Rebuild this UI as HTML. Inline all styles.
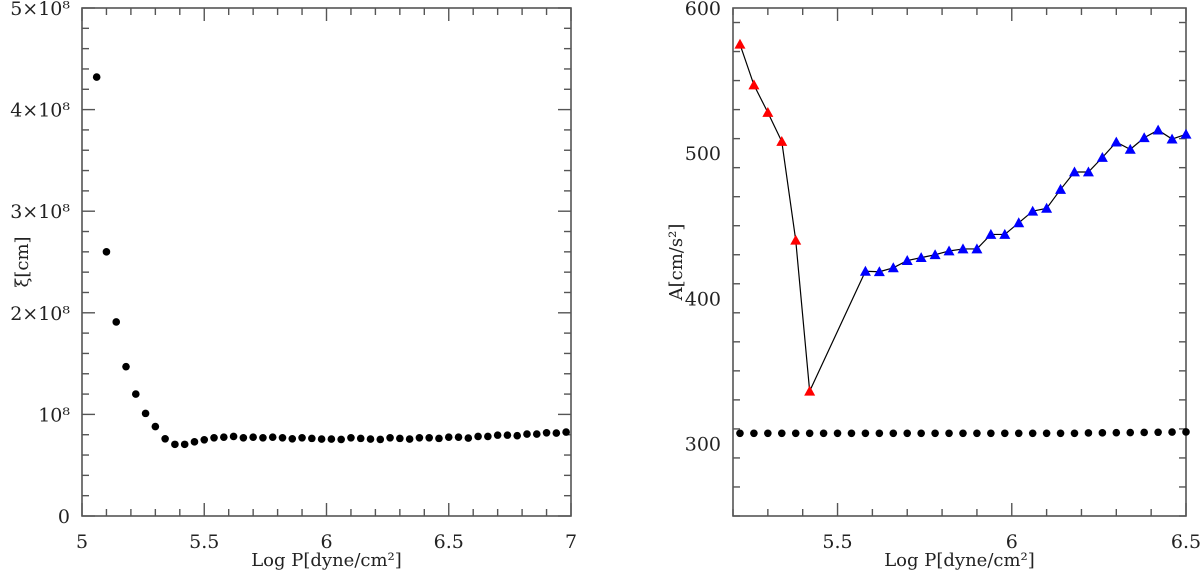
<!DOCTYPE html>
<html><head><meta charset="utf-8"><style>
html,body{margin:0;padding:0;background:#fff;}
svg{display:block;font-family:"DejaVu Serif","Liberation Serif",serif;}
</style></head><body>
<svg id="chart" width="1200" height="571" viewBox="0 0 1200 571" xmlns="http://www.w3.org/2000/svg"></svg>
<script>
// Left panel data
const leftX0 = 5.06, leftStep = 0.04;
const leftXiValues = [4.32,2.60,1.91,1.47,1.20,1.01,0.88,0.76,0.705,0.705,0.73,0.75,0.77,0.776,0.783,0.77,0.776,0.77,0.776,0.77,0.76,0.77,0.764,0.757,0.757,0.754,0.77,0.764,0.757,0.754,0.77,0.764,0.757,0.77,0.77,0.764,0.776,0.776,0.767,0.783,0.783,0.796,0.796,0.79,0.806,0.806,0.819,0.816,0.826];
const leftXTicks = [5,5.5,6,6.5,7];
const leftXTickLabels = ["5","5.5","6","6.5","7"];
const leftYTicks = [0,1,2,3,4,5];
const leftYTickLabels = ["0","10⁸","2×10⁸","3×10⁸","4×10⁸","5×10⁸"];
// Right panel data
const redX = [5.22,5.26,5.30,5.34,5.38,5.42];
const redA = [575,547,528,508,440,336];
const blueX = [5.58,5.62,5.66,5.70,5.74,5.78,5.82,5.86,5.90,5.94,5.98,6.02,6.06,6.10,6.14,6.18,6.22,6.26,6.30,6.34,6.38,6.42,6.46,6.50];
const blueA = [418.6,418.3,421,426,428,430,432.6,434,434,444,444,452,460,462,475,487,487,497,507.6,502.6,510.6,515.9,509.7,513];
const blackX0 = 5.22;
const blackA = [307,307,307,307,307,307,307,307,307,307,307,307,307,307,307,307,307,307,307,307,307,307,307,307,307,307.2,307.3,307.4,307.5,307.6,307.7,307.8,307.9];
const rightXTicks = [5.5,6,6.5];
const rightXTickLabels = ["5.5","6","6.5"];
const rightYTicks = [300,400,500,600];
const rightYTickLabels = ["300","400","500","600"];

const NS = "http://www.w3.org/2000/svg";
const svg = document.getElementById('chart');
function mk(tag, attrs, parent){
  const e = document.createElementNS(NS, tag);
  for (const k in attrs) e.setAttribute(k, attrs[k]);
  (parent||svg).appendChild(e);
  return e;
}
function panel(cfg){
  const g = mk('g', {});
  
  
  const sx = v => cfg.x0 + (v - cfg.xmin) / (cfg.xmax - cfg.xmin) * (cfg.x1 - cfg.x0);
  const sy = v => cfg.y1 - (v - cfg.ymin) / (cfg.ymax - cfg.ymin) * (cfg.y1 - cfg.y0);
  const frame = mk('rect', {x:cfg.x0, y:cfg.y0, width:cfg.x1-cfg.x0, height:cfg.y1-cfg.y0, fill:'none', stroke:'#555', 'stroke-width':1.6}, g);
  
  
  const nx = Math.round((cfg.xmax - cfg.xmin)/cfg.xminor);
  for (let i=0;i<=nx;i++){
    const v = cfg.xmin + i*cfg.xminor;
    const major = cfg.xTicks.some(t=>Math.abs(t-v)<1e-6);
    const L = major?13:7, x = sx(v);
    mk('line',{x1:x,y1:cfg.y1,x2:x,y2:cfg.y1-L,stroke:'#555','stroke-width':1.4},g);
    mk('line',{x1:x,y1:cfg.y0,x2:x,y2:cfg.y0+L,stroke:'#555','stroke-width':1.4},g);
  }
  cfg.xTicks.forEach((t,i)=>{
    const tx = mk('text',{x:sx(t),y:cfg.y1+32,'text-anchor':'middle','font-size':19,fill:'#222'},g);
    tx.textContent = cfg.xLabels[i];
    
    
  });
  const ny = Math.round((cfg.ymax - cfg.ymin)/cfg.yminor);
  for (let i=0;i<=ny;i++){
    const v = cfg.ymin + i*cfg.yminor;
    const major = cfg.yTicks.some(t=>Math.abs(t-v)<1e-6);
    const L = major?13:7, y = sy(v);
    mk('line',{x1:cfg.x0,y1:y,x2:cfg.x0+L,y2:y,stroke:'#555','stroke-width':1.4},g);
    mk('line',{x1:cfg.x1,y1:y,x2:cfg.x1-L,y2:y,stroke:'#555','stroke-width':1.4},g);
  }
  cfg.yTicks.forEach((t,i)=>{
    const ty = mk('text',{x:cfg.x0-12,y:sy(t)+7,'text-anchor':'end','font-size':19,fill:'#222'},g);
    ty.textContent = cfg.yLabels[i];
    
    
  });
  const xt = mk('text',{x:(cfg.x0+cfg.x1)/2,y:566,'text-anchor':'middle','font-size':18,fill:'#222'},g);
  xt.textContent = 'Log P[dyne/cm²]';
  
  
  const yt = mk('text',{x:0,y:0,'text-anchor':'middle','font-size':18,fill:'#222',transform:`translate(${cfg.ytx},${(cfg.y0+cfg.y1)/2}) rotate(-90)`},g);
  yt.textContent = cfg.ytitle;
  
  
  return {g, sx, sy};
}

const L = panel({name:'left-panel', x0:82, x1:571, y0:8, y1:516, xmin:5, xmax:7, ymin:0, ymax:5,
  xminor:0.1, yminor:0.2, xTicks:leftXTicks, xLabels:leftXTickLabels, yTicks:leftYTicks, yLabels:leftYTickLabels,
  ytitle:'ξ[cm]', ytx:28});
leftXiValues.forEach((v,i)=>{
  const c = mk('circle',{cx:L.sx(leftX0+i*leftStep), cy:L.sy(v), r:3.8, fill:'#000'}, L.g);
  
  
});

const R = panel({name:'right-panel', x0:733, x1:1186, y0:8, y1:516, xmin:5.2, xmax:6.5, ymin:250, ymax:600,
  xminor:0.1, yminor:20, xTicks:rightXTicks, xLabels:rightXTickLabels, yTicks:rightYTicks, yLabels:rightYTickLabels,
  ytitle:'A[cm/s²]', ytx:682});
const allX = redX.concat(blueX), allA = redA.concat(blueA);
const line = mk('polyline',{points:allX.map((x,i)=>R.sx(x)+','+R.sy(allA[i])).join(' '), fill:'none', stroke:'#000','stroke-width':1.2}, R.g);


function tri(x,y,color,name){
  const s=5.5;
  const p = mk('polygon',{points:`${x},${y-s} ${x-s},${y+s*0.8} ${x+s},${y+s*0.8}`, fill:color}, R.g);
  
  
}
redX.forEach((x,i)=>tri(R.sx(x),R.sy(redA[i]),'#f00','red-triangle'));
blueX.forEach((x,i)=>tri(R.sx(x),R.sy(blueA[i]),'#00f','blue-triangle'));
blackA.forEach((v,i)=>{
  const c = mk('circle',{cx:R.sx(blackX0+i*0.04), cy:R.sy(v), r:3.8, fill:'#000'}, R.g);
  
  
});
</script>
</body></html>
